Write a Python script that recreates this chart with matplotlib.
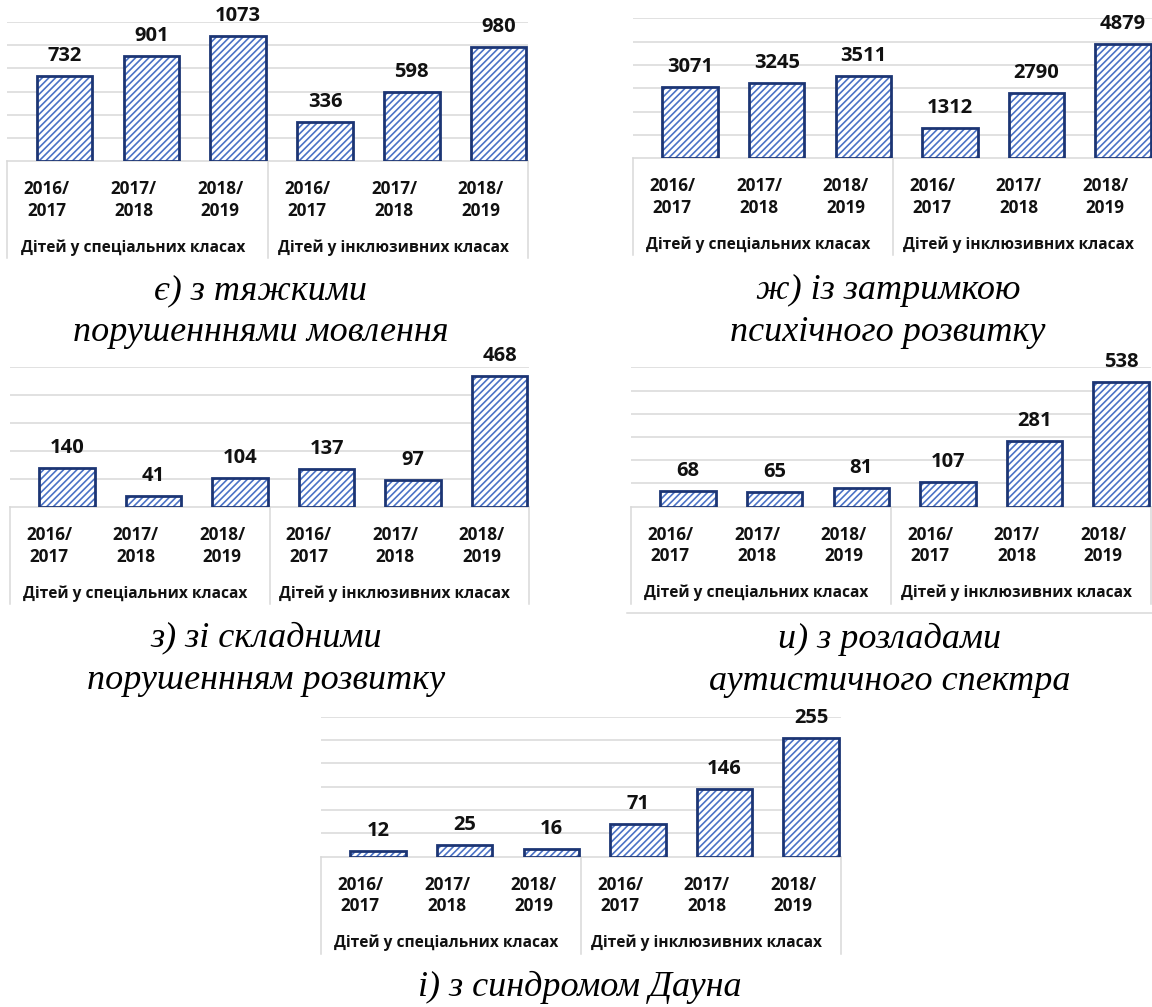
import numpy as np
import matplotlib
matplotlib.use('Agg')
import matplotlib.pyplot as plt
import matplotlib.transforms as mtransforms

# ---------------- data ----------------
season_top = ['2016/', '2017/', '2018/', '2016/', '2017/', '2018/']
season_bottom = ['2017', '2018', '2019', '2017', '2018', '2019']
group_labels = ['Дітей у спеціальних класах', 'Дітей у інклюзивних класах']

speech_disorders = [732, 901, 1073, 336, 598, 980]
mental_delay = [3071, 3245, 3511, 1312, 2790, 4879]
complex_disorders = [140, 41, 104, 137, 97, 468]
autism_spectrum = [68, 65, 81, 107, 281, 538]
down_syndrome = [12, 25, 16, 71, 146, 255]

axis_max = [1200, 6000, 500, 600, 300]
grid_step = [200, 1000, 100, 100, 50]

captions = [
    ['є) з тяжкими', 'порушенннями мовлення'],
    ['ж) із затримкою', 'психічного розвитку'],
    ['з) зі складними', 'порушеннням розвитку'],
    ['и) з розладами', 'аутистичного спектра'],
    ['і) з синдромом Дауна'],
]

# ---------------- style ----------------
W, H, DPI = 1152, 1007, 100
NAVY = '#1C3574'
HATCH = '#4A72C6'
GRID = '#D9D9D9'
TXT = '#111111'
SANS = ['Open Sans', 'DejaVu Sans']
SERIF = ['Liberation Serif', 'DejaVu Serif']
plt.rcParams['hatch.linewidth'] = 1.2

fig = plt.figure(figsize=(W / DPI, H / DPI), dpi=DPI)
fig.patch.set_facecolor('white')

# panel geometry in pixels: left of plot area, slot width, top gridline y, baseline y
panels = [
    dict(vals=speech_disorders, xl=7.3, s=86.8, top=21.7, base=161.3,
         cap_x=261, cap_y=[299, 341]),
    dict(vals=mental_delay, xl=633, s=86.6, top=18.3, base=158.3,
         cap_x=888, cap_y=[299, 341]),
    dict(vals=complex_disorders, xl=10, s=86.5, top=367, base=507,
         cap_x=266, cap_y=[646, 689]),
    dict(vals=autism_spectrum, xl=631, s=86.6, top=367.3, base=506.7,
         cap_x=890, cap_y=[648, 690]),
    dict(vals=down_syndrome, xl=321, s=86.6, top=716.7, base=856.7,
         cap_x=580, cap_y=[996]),
]

BAR_OFF = 0.16
BAR_W = 0.64
LAB_OFF = -0.045

for k, p in enumerate(panels):
    h_px = p['base'] - p['top']
    ax = fig.add_axes([p['xl'] / W, 1 - p['base'] / H, 6 * p['s'] / W, h_px / H])
    ax.set_xlim(-0.5, 5.5)
    ax.set_ylim(0, axis_max[k])
    ax.set_facecolor('none')
    for sp in ['left', 'right', 'top']:
        ax.spines[sp].set_visible(False)
    ax.spines['bottom'].set_color(GRID)
    ax.spines['bottom'].set_linewidth(1.1)
    ax.spines['bottom'].set_zorder(1)
    ax.set_yticks(np.arange(grid_step[k], axis_max[k] + 1, grid_step[k]))
    ax.yaxis.grid(True, color=GRID, linewidth=1.1)
    ax.set_axisbelow(True)
    ax.tick_params(left=False, bottom=False, labelleft=False, labelbottom=False)
    ax.set_xticks([])

    x = np.arange(6)
    vals = p['vals']
    ax.bar(x + BAR_OFF, vals, width=BAR_W, color='white', edgecolor=HATCH,
           linewidth=0, hatch='/////', zorder=3)
    ax.bar(x + BAR_OFF, vals, width=BAR_W, fill=False, edgecolor=NAVY,
           linewidth=2.0, zorder=4)
    for xi, v in zip(x, vals):
        ax.annotate(str(v), (xi + BAR_OFF, v), xytext=(0, 10.8),
                    textcoords='offset points', ha='center', va='baseline',
                    fontsize=14.5, fontweight='bold', family=SANS, color=TXT,
                    zorder=5, annotation_clip=False)

    # category table below the axis
    trans = mtransforms.blended_transform_factory(ax.transData, ax.transAxes)
    def ay(px):
        return -px / h_px
    for xv in (-0.5, 2.5, 5.5):
        ax.plot([xv, xv], [0, ay(97)], color=GRID, linewidth=1.1,
                transform=trans, clip_on=False)
    for xi in x:
        ax.text(xi + LAB_OFF, ay(33), season_top[xi], transform=trans,
                ha='center', va='baseline', fontsize=12.3, fontweight='bold',
                family=SANS, color=TXT)
        ax.text(xi + LAB_OFF, ay(54.5), season_bottom[xi], transform=trans,
                ha='center', va='baseline', fontsize=12.3, fontweight='bold',
                family=SANS, color=TXT)
    for g, gx in enumerate((1, 4)):
        ax.text(gx - 0.05, ay(90.5), group_labels[g], transform=trans,
                ha='center', va='baseline', fontsize=11.2, fontweight='bold',
                family=SANS, color=TXT)

    # caption
    for line, yy in zip(captions[k], p['cap_y']):
        fig.text(p['cap_x'] / W, 1 - yy / H, line, ha='center', va='baseline',
                 fontsize=26, style='italic', family=SERIF, color='black')

# light chart-area border under the autism panel
fig.add_artist(plt.Line2D([627 / W, 1.0], [1 - 613 / H, 1 - 613 / H],
                          color=GRID, linewidth=1.1))

fig.savefig('out.png', dpi=DPI, facecolor='white')
